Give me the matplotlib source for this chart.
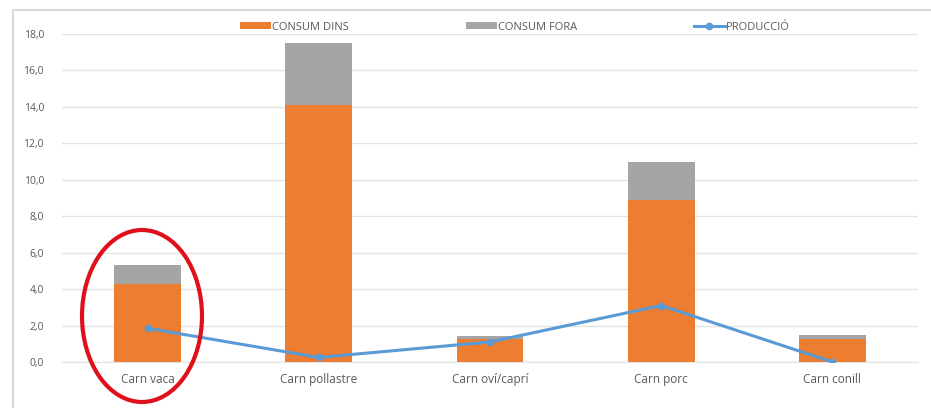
import matplotlib
matplotlib.use("Agg")
import matplotlib.pyplot as plt
from matplotlib.patches import Ellipse, Rectangle
import numpy as np

# dades
categories = ["Carn vaca", "Carn pollastre", "Carn oví/caprí", "Carn porc", "Carn conill"]
consum_dins = [4.3, 14.1, 1.25, 8.9, 1.25]
consum_fora = [1.0, 3.4, 0.2, 2.1, 0.25]
produccio = [1.85, 0.25, 1.1, 3.1, 0.0]
yticks = [0, 2, 4, 6, 8, 10, 12, 14, 16, 18]

orange = "#ED7D31"
grey = "#A5A5A5"
blue = "#5B9BD5"
textc = "#595959"

plt.rcParams['font.family'] = ['Open Sans', 'DejaVu Sans']

W, H = 931, 408
fig = plt.figure(figsize=(W / 100, H / 100), dpi=100)
ax = fig.add_axes([62 / W, 46 / H, (918 - 62) / W, (362 - 34) / H])

x = np.arange(len(categories))
b1 = ax.bar(x, consum_dins, width=0.39, color=orange, label="CONSUM DINS", zorder=2)
b2 = ax.bar(x, consum_fora, width=0.39, bottom=consum_dins, color=grey,
            label="CONSUM FORA", zorder=2)
l1, = ax.plot(x, produccio, color=blue, lw=2.2, marker="o", ms=4.5,
              label="PRODUCCIÓ", zorder=3)

ax.set_xlim(-0.5, len(categories) - 0.5)
ax.set_ylim(0, 18)
ax.set_yticks(yticks)
ax.set_yticklabels([f"{v:.1f}".replace(".", ",") for v in yticks])
ax.set_xticks(x)
ax.set_xticklabels(categories)
ax.tick_params(axis="y", length=0, labelsize=7.5, labelcolor=textc, pad=13)
ax.tick_params(axis="x", length=0, labelsize=8.5, labelcolor=textc, pad=8)
ax.grid(axis="y", color="#E3E3E3", lw=1, zorder=0)
for s in ax.spines.values():
    s.set_visible(False)
ax.spines["bottom"].set_visible(True)
ax.spines["bottom"].set_color("#E3E3E3")

fig.legend(handles=[b1, b2, l1], loc="center", bbox_to_anchor=(515 / W, 1 - 27 / H),
           ncol=3, frameon=False, fontsize=8, labelcolor=textc, handlelength=2.8,
           handleheight=0.55, columnspacing=10.5, handletextpad=0.1)

# marc de l'àrea del gràfic
fig.patches.append(Rectangle((13 / W, -0.05), 1.0, 1 - 10 / H + 0.05, transform=fig.transFigure,
                             fill=False, edgecolor="#D9D9D9", lw=1.5))

# el cercle vermell
fig.patches.append(Ellipse((142 / W, 1 - 316 / H), 120 / W, 172 / H, angle=0,
                           transform=fig.transFigure, fill=False, edgecolor="#E0101A", lw=3))

fig.savefig("out.png", dpi=100)
